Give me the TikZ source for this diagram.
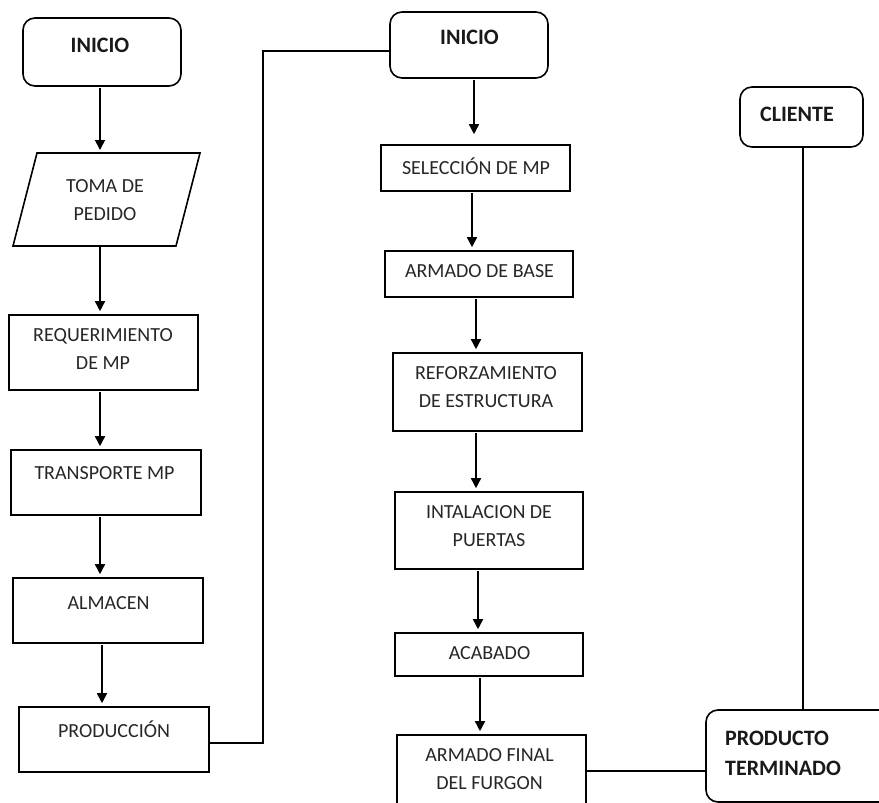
\documentclass[tikz,border=0pt]{standalone}
\usepackage{fontspec}
\setmainfont{Carlito}
\usetikzlibrary{arrows.meta}
\begin{document}
\begin{tikzpicture}[x=1pt,y=-1pt,
  box/.style={draw, line width=1.6pt, inner sep=0pt},
  rbox/.style={box, rounded corners=12pt},
  lbl/.style={font=\fontsize{20}{28}\selectfont, align=center, inner sep=0pt, text=black!85},
  blbl/.style={font=\fontsize{22}{30}\selectfont\bfseries, align=center, inner sep=0pt, text=black!90},
  arr/.style={line width=1.6pt, -{Triangle[width=10pt,length=10pt]}, shorten >=3pt, shorten <=1pt},
  conn/.style={line width=1.6pt}]
\useasboundingbox (0,0) rectangle (879,803);

% ---------- left column ----------
\node[rbox, minimum width=158pt, minimum height=68pt] (inicio1) at (102,52) {};
\node[blbl] (tinicio1) at (100,45) {INICIO};

\draw[line width=1.6pt, line join=miter] (37,153) -- (200,153) -- (176,246) -- (13,246) -- cycle;
\coordinate (pedT) at (106,153);
\coordinate (pedB) at (94,246);
\node[lbl] (tped) at (105,200) {TOMA DE\\PEDIDO};

\node[box, minimum width=189pt, minimum height=75pt] (req) at (103.5,352.5) {};
\node[lbl] (treq) at (103,349) {REQUERIMIENTO\\DE MP};

\node[box, minimum width=190pt, minimum height=65pt] (trans) at (106,482.5) {};
\node[lbl] (ttrans) at (104.5,473) {TRANSPORTE MP};

\node[box, minimum width=190pt, minimum height=65pt] (alm) at (108,610.5) {};
\node[lbl] (talm) at (108.5,603) {ALMACEN};

\node[box, minimum width=190pt, minimum height=65pt] (prod) at (114,739.5) {};
\node[lbl, anchor=base] (tprod) at (114,737) {PRODUCCIÓN};

% ---------- middle column ----------
\node[rbox, minimum width=158pt, minimum height=66pt] (inicio2) at (469,45) {};
\node[blbl] (tinicio2) at (469.5,37) {INICIO};

\node[box, minimum width=189pt, minimum height=46pt] (sel) at (475.5,168) {};
\node[lbl, anchor=base] (tsel) at (476,174) {SELECCIÓN DE MP};

\node[box, minimum width=188pt, minimum height=46pt] (base) at (479,274) {};
\node[lbl] (tbase) at (479.5,271) {ARMADO DE BASE};

\node[box, minimum width=189pt, minimum height=78pt] (ref) at (487.5,392) {};
\node[lbl] (tref) at (486,387) {REFORZAMIENTO\\DE ESTRUCTURA};

\node[box, minimum width=188pt, minimum height=77pt] (inst) at (489,530.5) {};
\node[lbl] (tinst) at (489,526) {INTALACION DE\\PUERTAS};

\node[box, minimum width=188pt, minimum height=43pt] (acab) at (489,654.5) {};
\node[lbl] (tacab) at (489.5,653) {ACABADO};

\node[box, minimum width=189pt, minimum height=80pt] (final) at (491.5,775) {};
\node[lbl] (tfinal) at (489.5,769) {ARMADO FINAL\\DEL FURGON};

% ---------- right column ----------
\node[rbox, minimum width=123pt, minimum height=60pt] (cliente) at (801.5,117) {};
\node[blbl] (tcliente) at (797,114) {CLIENTE};

\node[rbox, minimum width=188pt, minimum height=92pt] (producto) at (800,756) {};
\node[blbl, align=left, anchor=west] (tproducto) at (725,753) {PRODUCTO\\TERMINADO};

% ---------- x / y guides for connectors ----------
\coordinate (xa) at (100,0);
\coordinate (xb) at (102,0);
\coordinate (xl) at (263,51);
\coordinate (xs1) at (474,0);
\coordinate (xs2) at (472,0);
\coordinate (xs3) at (476,0);
\coordinate (xs4) at (478,0);
\coordinate (xs5) at (480,0);
\coordinate (yl) at (0,771);
\coordinate (xc) at (803,0);

% ---------- connectors ----------
\draw[arr] (inicio1.south -| xa) -- (pedT -| xa);
\draw[arr] (pedB -| xa) -- (req.north -| xa);
\draw[arr] (req.south -| xa) -- (trans.north -| xa);
\draw[arr] (trans.south -| xa) -- (alm.north -| xa);
\draw[arr] (alm.south -| xb) -- (prod.north -| xb);

\draw[conn] ([yshift=-3.5pt]prod.east) -| (xl) -- (inicio2.west |- xl);

\draw[arr, shorten >=10pt] (inicio2.south -| xs1) -- (sel.north -| xs1);
\draw[arr] (sel.south -| xs2) -- (base.north -| xs2);
\draw[arr] (base.south -| xs3) -- (ref.north -| xs3);
\draw[arr] (ref.south -| xs3) -- (inst.north -| xs3);
\draw[arr] (inst.south -| xs4) -- (acab.north -| xs4);
\draw[arr] (acab.south -| xs5) -- (final.north -| xs5);

\draw[conn] (final.east |- yl) -- (producto.west |- yl);
\draw[conn] (cliente.south -| xc) -- (producto.north -| xc);
\end{tikzpicture}
\end{document}
